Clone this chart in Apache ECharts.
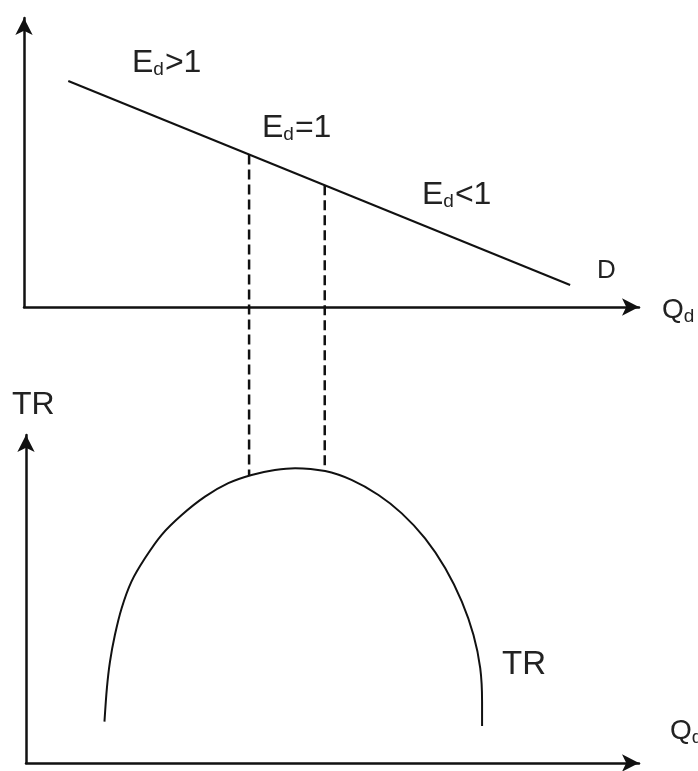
<!DOCTYPE html>
<html>
<head>
<meta charset="utf-8">
<script src="https://cdn.jsdelivr.net/npm/echarts@6/dist/echarts.min.js"></script>
<style>
  html, body { margin: 0; padding: 0; background: #fff; }
  #echart { width: 698px; height: 771px; }
</style>
</head>
<body>
<div id="echart"></div>
<script>
// demand curve D (top panel), x and y both 0..100
var demandX = [7.2, 88.8];
var demandY = [78.2, 7.6];

// dashed guides: from D down to the TR curve (top panel units, go below the axis)
var guideX = [36.6, 48.9];
var guideTop = [52.8, 42.1];
var guideBottom = [-58.1, -56.4];

// total revenue curve (bottom panel)
var trX = [12.8, 13.2, 13.7, 14.5, 15.6, 17.2, 19.4, 22.1, 25.4, 29.2, 33.0, 36.8, 40.6, 43.9,
           48.8, 53.1, 57.5, 61.3, 65.1, 68.4, 71.1, 73.0, 74.1, 74.4, 74.4];
var trY = [12.6, 22.9, 30.9, 39.0, 47.2, 55.3, 62.4, 69.5, 75.6, 81.2, 85.3, 87.8, 89.3, 89.9,
           89.0, 86.3, 81.7, 76.1, 68.5, 59.4, 49.2, 39.0, 28.9, 18.7, 11.3];

function pairs(xs, ys) {
  var out = [];
  for (var i = 0; i < xs.length; i++) out.push([xs[i], ys[i]]);
  return out;
}

var axisStyle = { color: '#111', width: 2.5 };
var fontFam = '"Liberation Sans", Arial, sans-serif';
var sub = { fontSize: 19, fontFamily: fontFam, color: '#222', padding: [14, 1, 0, 0] };

function hiddenAxis(idx) {
  return {
    type: 'value', gridIndex: idx, min: 0, max: 100,
    axisLine: { show: true, onZero: false, lineStyle: axisStyle,
      symbol: ['none', 'arrow'], symbolSize: [13, 17] },
    axisTick: { show: false }, axisLabel: { show: false }, splitLine: { show: false }
  };
}

function label(x, y, text, size) {
  return {
    type: 'text', left: x, top: y,
    style: {
      text: text, fill: '#222', fontSize: size, fontFamily: fontFam,
      rich: { s: sub }
    }
  };
}

var myChart = echarts.init(document.getElementById('echart'));
var guideSeries = guideX.map(function (gx, i) {
  return {
    type: 'line', xAxisIndex: 0, yAxisIndex: 0, clip: false, symbol: 'none',
    lineStyle: { color: '#111', width: 2.5, type: [10, 5] },
    data: [[gx, guideTop[i]], [gx, guideBottom[i]]],
    z: 1
  };
});

option = {
  animation: false,
  backgroundColor: '#fff',
  grid: [
    { left: 24, right: 59, top: 18, height: 289 },
    { left: 26, right: 59, top: 435, height: 328 }
  ],
  xAxis: [hiddenAxis(0), hiddenAxis(1)],
  yAxis: [hiddenAxis(0), hiddenAxis(1)],
  series: [
    {
      type: 'line', xAxisIndex: 0, yAxisIndex: 0, symbol: 'none',
      lineStyle: { color: '#111', width: 2 },
      data: pairs(demandX, demandY)
    },
    {
      type: 'line', xAxisIndex: 1, yAxisIndex: 1, symbol: 'none', smooth: 0.3,
      lineStyle: { color: '#111', width: 2 },
      data: pairs(trX, trY)
    }
  ].concat(guideSeries),
  graphic: [
    label(132, 47, 'E{s|d}>1', 32),
    label(262, 112, 'E{s|d}=1', 32),
    label(422, 179, 'E{s|d}<1', 32),
    label(597, 258, 'D', 26),
    label(662, 296, 'Q{s|d}', 28),
    label(12, 389, 'TR', 32),
    label(502, 648, 'TR', 33),
    label(670, 717, 'Q{s|d}', 28)
  ]
};
myChart.setOption(option);
</script>
</body>
</html>
